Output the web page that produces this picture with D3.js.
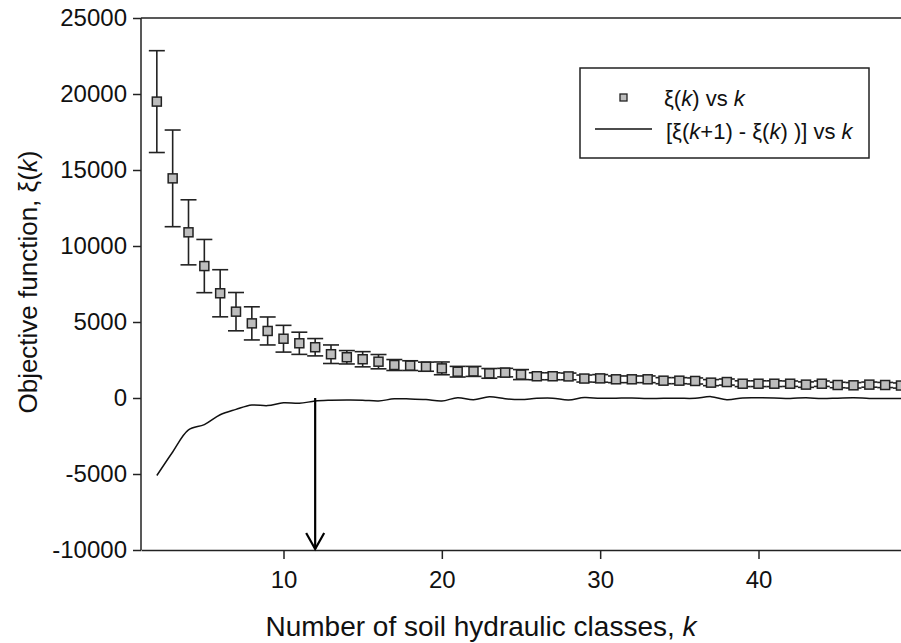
<html>
<head>
<script src='https://d3js.org/d3.v7.min.js'></script>
<style>
	body { margin: 0; background: white; }
	svg { display: block; }
	text { font-family: 'Liberation Sans', Arial, sans-serif; fill: #111; }
</style>
</head>
<body>
<svg width=901 height=643></svg>
<script>

// number of classes k
var classes = [2,3,4,5,6,7,8,9,10,11,12,13,14,15,16,17,18,19,20,21,22,23,24,25,
	26,27,28,29,30,31,32,33,34,35,36,37,38,39,40,41,42,43,44,45,46,47,48,49];
// objective function xi(k), mean
var xiMean = [19500,14450,10900,8680,6890,5680,4910,4410,3900,3600,3340,2880,2680,2550,2390,2170,
	2130,2060,1950,1730,1750,1620,1670,1540,1430,1430,1420,1280,1290,1230,1230,1230,
	1140,1140,1120,1010,1050,940,940,940,940,880,940,855,835,880,855,820];
// error bar half-length
var xiErr = [3350,3180,2140,1750,1550,1260,1090,920,880,730,570,610,440,500,470,360,
	320,300,420,350,330,320,280,330,230,230,220,230,250,220,220,220,
	200,200,200,200,200,190,190,190,180,180,180,180,180,170,170,170];

// xi(k+1) - xi(k) for k = 2..49
var diffK = [2,3,4,5,6,7,8,9,10,11,12,13,14,15,16,17,18,19,20,21,22,23,24,25,
	26,27,28,29,30,31,32,33,34,35,36,37,38,39,40,41,42,43,44,45,46,47,48,49];
var diffVal = [-5100,-3550,-2100,-1750,-1100,-750,-460,-500,-310,-350,-200,-150,-130,-140,-200,-50,
	-60,-100,-200,20,-120,80,-50,-100,-20,-10,-130,30,-20,-10,0,-40,
	-10,-20,-20,90,-110,0,10,0,-30,20,-40,-10,20,-30,-40,-30];

var xTicks = [10,20,30,40];
var yTicks = [-10000,-5000,0,5000,10000,15000,20000,25000];
var arrowK = 12;

var svg = d3.select("svg");
var pLeft = 141, pRight = 901, pTop = 18, pBottom = 550;

var x = d3.scaleLinear().domain([1,49]).range([pLeft,pRight]);
var y = d3.scaleLinear().domain([-10000,25000]).range([pBottom,pTop]);

svg.append("defs").append("clipPath").attr("id","plot")
	.append("rect").attr("x",pLeft).attr("y",pTop-10).attr("width",pRight-pLeft).attr("height",pBottom-pTop+20);

// axes
var yaxis = svg.append("g")
	.attr("transform","translate("+pLeft+",0)")
	.call(d3.axisLeft(y).tickValues(yTicks).tickSize(8).tickPadding(6).tickFormat(function(d){ return String(d); }));
var xaxis = svg.append("g")
	.attr("transform","translate(0,"+pBottom+")")
	.call(d3.axisBottom(x).tickValues(xTicks).tickSize(9).tickPadding(12).tickSizeOuter(0));
[yaxis,xaxis].forEach(function(a){
	a.selectAll("path,line").attr("stroke","#222").attr("stroke-width",1.5);
	a.selectAll("text").attr("font-size",24).attr("font-family","'Liberation Sans', Arial, sans-serif").attr("fill","#111");
});
yaxis.select(".domain").attr("d","M0,"+pBottom+"V"+pTop);

// top frame line
svg.append("line").attr("x1",pLeft).attr("x2",pRight).attr("y1",pTop).attr("y2",pTop)
	.attr("stroke","#222").attr("stroke-width",1.5);

var plot = svg.append("g").attr("clip-path","url(#plot)");

// difference line
var line = d3.line().curve(d3.curveCatmullRom)
	.x(function(d,i){ return x(diffK[i]); })
	.y(function(d){ return y(d); });
plot.append("path").datum(diffVal).attr("d",line)
	.attr("fill","none").attr("stroke","#111").attr("stroke-width",1.5);

// error bars
var eb = plot.append("g").selectAll("g").data(xiMean).enter().append("g")
	.attr("stroke","#222").attr("stroke-width",1.6);
eb.append("line")
	.attr("x1",function(d,i){ return x(classes[i]); })
	.attr("x2",function(d,i){ return x(classes[i]); })
	.attr("y1",function(d,i){ return y(d+xiErr[i]); })
	.attr("y2",function(d,i){ return y(d-xiErr[i]); });
eb.append("line")
	.attr("x1",function(d,i){ return x(classes[i])-8; })
	.attr("x2",function(d,i){ return x(classes[i])+8; })
	.attr("y1",function(d,i){ return y(d+xiErr[i]); })
	.attr("y2",function(d,i){ return y(d+xiErr[i]); });
eb.append("line")
	.attr("x1",function(d,i){ return x(classes[i])-8; })
	.attr("x2",function(d,i){ return x(classes[i])+8; })
	.attr("y1",function(d,i){ return y(d-xiErr[i]); })
	.attr("y2",function(d,i){ return y(d-xiErr[i]); });

// squares
plot.append("g").selectAll("rect").data(xiMean).enter().append("rect")
	.attr("x",function(d,i){ return x(classes[i])-4.5; })
	.attr("y",function(d){ return y(d)-4.5; })
	.attr("width",9).attr("height",9)
	.attr("fill","#bdbdbd").attr("stroke","#222").attr("stroke-width",1.5);

// arrow at the chosen k
var ax = x(arrowK);
svg.append("line").attr("x1",ax).attr("x2",ax).attr("y1",y(0)).attr("y2",pBottom-1)
	.attr("stroke","#000").attr("stroke-width",2.2);
svg.append("path").attr("d","M"+(ax-9)+","+(pBottom-17)+"L"+ax+","+(pBottom-1)+"L"+(ax+9)+","+(pBottom-17))
	.attr("fill","none").attr("stroke","#000").attr("stroke-width",2.2);

// legend
var lg = svg.append("g").attr("transform","translate(580,68)");
lg.append("rect").attr("width",289).attr("height",90)
	.attr("fill","white").attr("stroke","#222").attr("stroke-width",1.5);
lg.append("rect").attr("x",40).attr("y",26).attr("width",7).attr("height",7)
	.attr("fill","#bdbdbd").attr("stroke","#222").attr("stroke-width",1.3);
lg.append("line").attr("x1",15).attr("x2",72).attr("y1",61).attr("y2",61)
	.attr("stroke","#111").attr("stroke-width",1.5);
var t1 = lg.append("text").attr("x",84).attr("y",38).attr("font-size",22);
t1.append("tspan").text("ξ(");
t1.append("tspan").attr("font-style","italic").text("k");
t1.append("tspan").text(") vs ");
t1.append("tspan").attr("font-style","italic").text("k");
var t2 = lg.append("text").attr("x",86).attr("y",71).attr("font-size",22);
t2.append("tspan").text("[ξ(");
t2.append("tspan").attr("font-style","italic").text("k");
t2.append("tspan").text("+1) - ξ(");
t2.append("tspan").attr("font-style","italic").text("k");
t2.append("tspan").text(") )] vs ");
t2.append("tspan").attr("font-style","italic").text("k");

// axis titles
var xt = svg.append("text").attr("x",481).attr("y",636).attr("text-anchor","middle").attr("font-size",28);
xt.append("tspan").text("Number of soil hydraulic classes, ");
xt.append("tspan").attr("font-style","italic").text("k");

var yt = svg.append("text").attr("transform","translate(37,282) rotate(-90)")
	.attr("text-anchor","middle").attr("font-size",26);
yt.append("tspan").text("Objective function, ξ(");
yt.append("tspan").attr("font-style","italic").text("k");
yt.append("tspan").text(")");

</script>
</body>
</html>
